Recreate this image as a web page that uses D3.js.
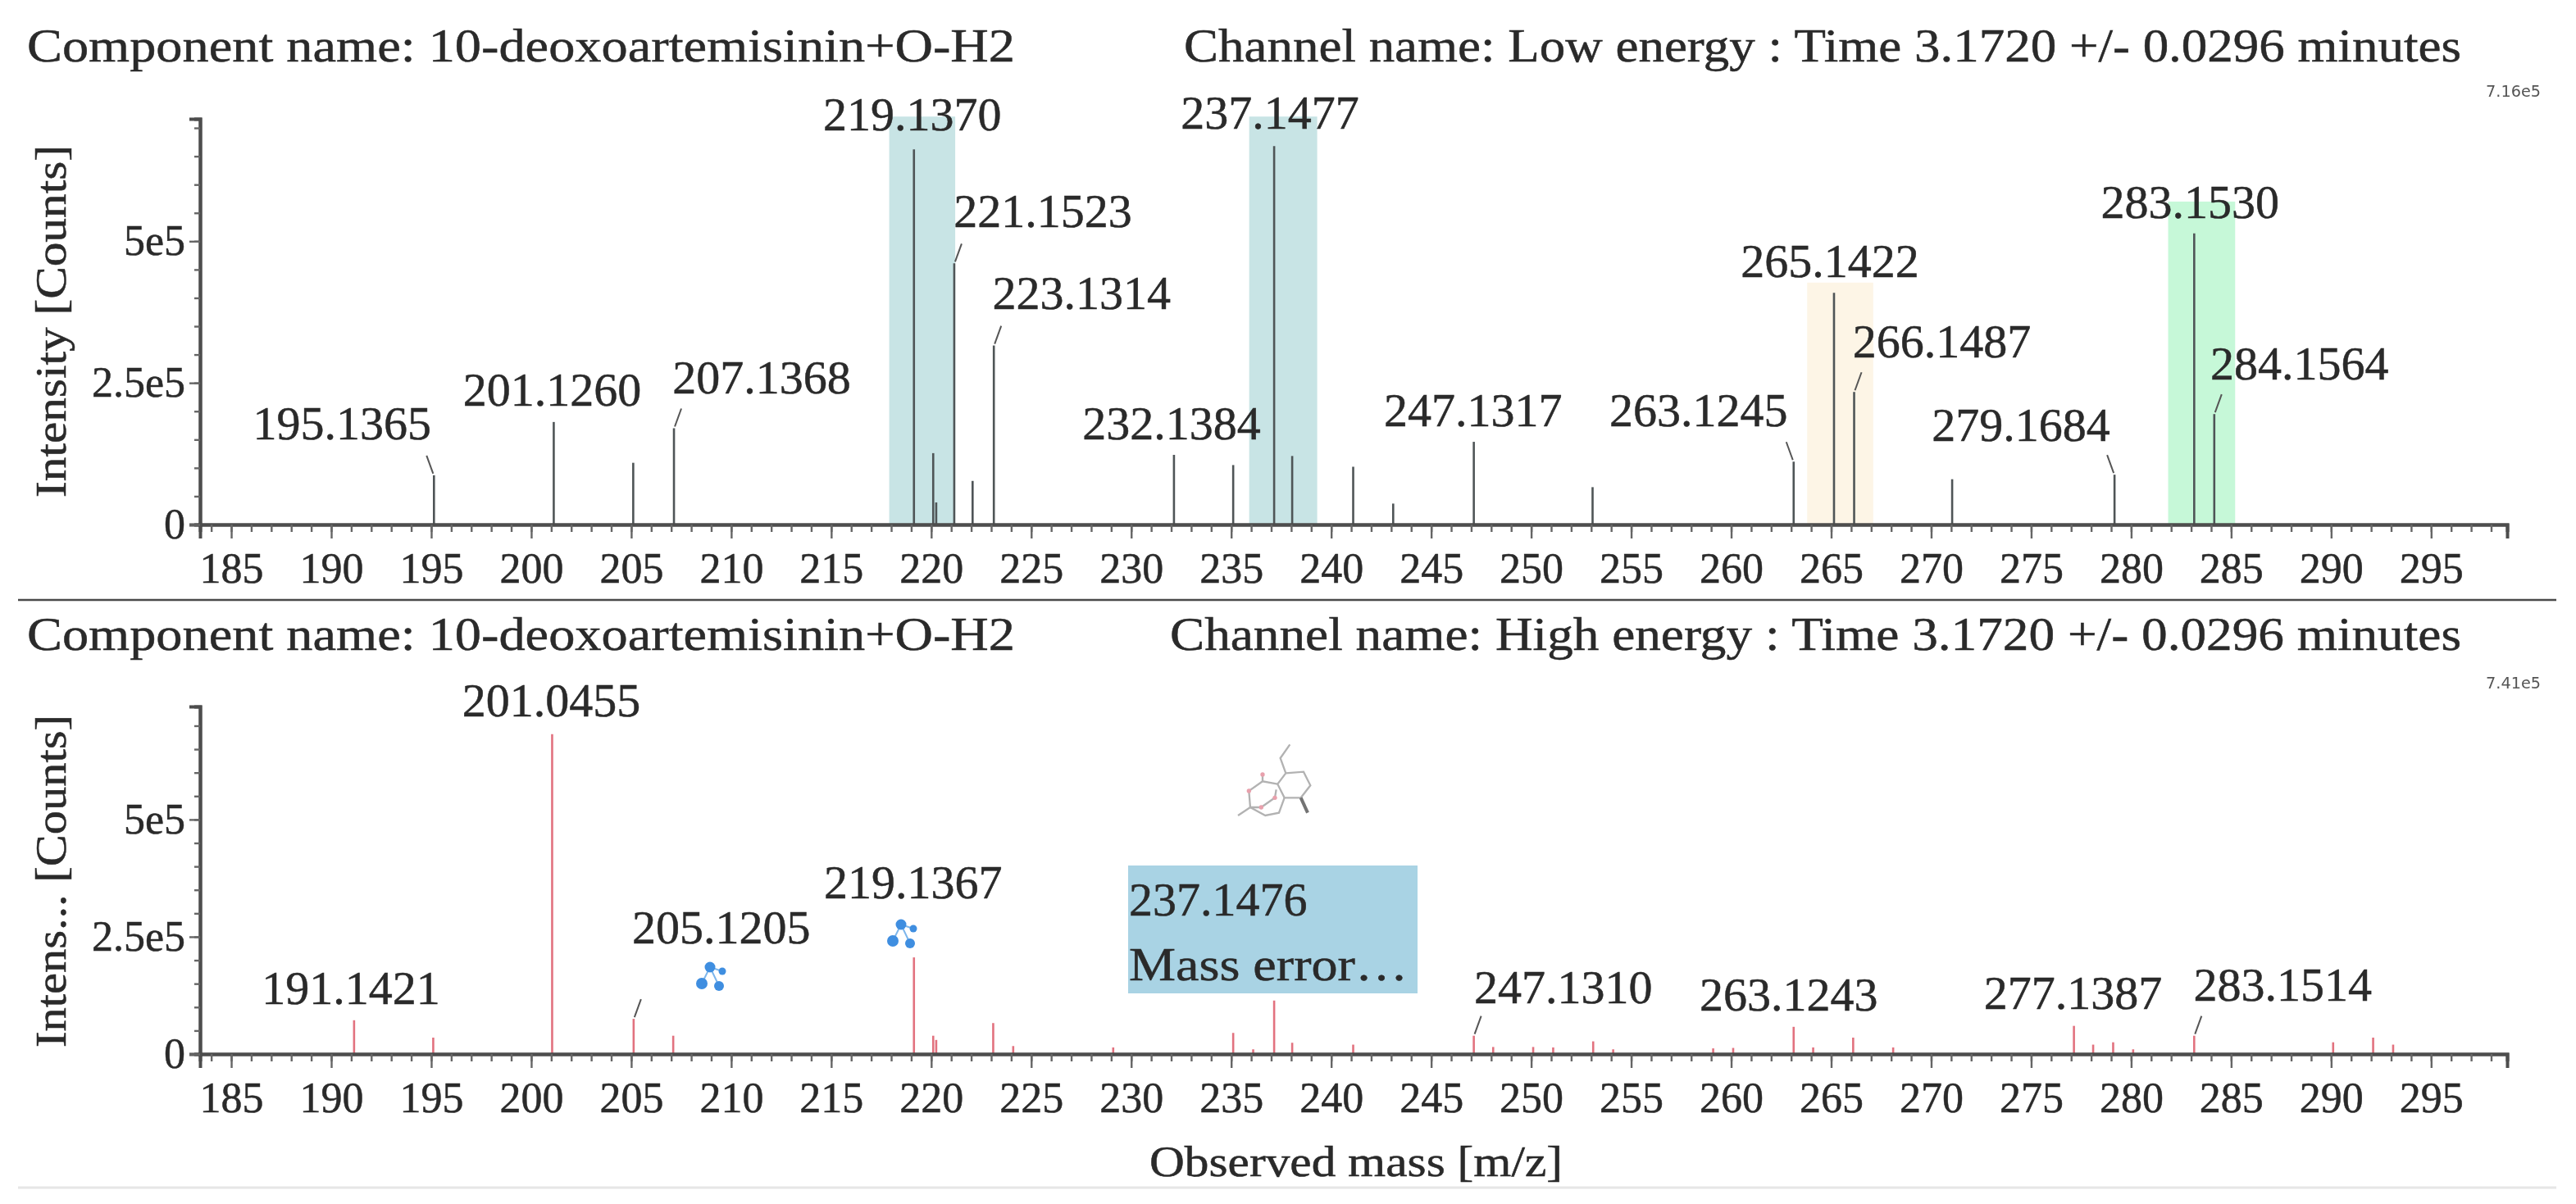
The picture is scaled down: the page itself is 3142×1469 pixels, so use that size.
<!DOCTYPE html>
<html>
<head>
<meta charset="utf-8">
<script src="https://cdn.jsdelivr.net/npm/d3@7"></script>
<style>
  body { margin: 0; background: #fff; }
  svg { display: block; filter: blur(0.7px); }
  text { font-family: "Liberation Serif", serif; fill: #2a2a2a; stroke: #2a2a2a; stroke-width: 0.5px; }
</style>
</head>
<body>
<div id="chart"></div>
<script>
// Data
const mzTicks = d3.range(185, 296, 5);
const mzMinorTicks = d3.range(184, 299);
const intensityTicks = [0, 2.5e5, 5e5];
const intensityMinorTicks = d3.range(0, 7.01e5, 0.5e5);

const lowMz = [195.1365, 201.1260, 205.1, 207.1368, 219.1370, 220.1, 220.25, 221.1523, 222.07, 223.1314,
  232.1384, 235.1, 237.1477, 238.05, 241.1, 243.1, 247.1317, 253.07, 263.1245, 265.1422, 266.1487,
  271.05, 279.1684, 283.1530, 284.1564];
const lowIntensity = [0.87e5, 1.81e5, 1.09e5, 1.70e5, 6.62e5, 1.26e5, 0.39e5, 4.61e5, 0.77e5, 3.16e5,
  1.23e5, 1.05e5, 6.68e5, 1.21e5, 1.02e5, 0.37e5, 1.46e5, 0.66e5, 1.11e5, 4.09e5, 2.34e5,
  0.80e5, 0.88e5, 5.14e5, 1.95e5];
const lowLabels = ["195.1365", "201.1260", "207.1368", "219.1370", "221.1523", "223.1314", "232.1384",
  "237.1477", "247.1317", "263.1245", "265.1422", "266.1487", "279.1684", "283.1530", "284.1564"];

const highMz = [191.1421, 195.1, 201.0455, 205.1205, 207.1, 219.1367, 220.1, 220.25, 223.1, 224.1, 229.1,
  235.1, 236.1, 237.1476, 238.05, 241.1, 247.1310, 248.1, 250.1, 251.1, 253.1, 254.1, 259.1, 260.1,
  263.1243, 264.1, 266.1, 268.1, 277.1387, 278.1, 279.1, 280.1, 283.1514, 290.1, 292.1, 293.1];
const highIntensity = [0.72e5, 0.35e5, 6.82e5, 0.75e5, 0.39e5, 2.06e5, 0.39e5, 0.30e5, 0.66e5, 0.17e5, 0.14e5,
  0.45e5, 0.10e5, 1.14e5, 0.24e5, 0.20e5, 0.39e5, 0.15e5, 0.15e5, 0.14e5, 0.27e5, 0.10e5, 0.12e5, 0.13e5,
  0.58e5, 0.14e5, 0.35e5, 0.14e5, 0.60e5, 0.20e5, 0.25e5, 0.10e5, 0.39e5, 0.25e5, 0.35e5, 0.20e5];
const highLabels = ["191.1421", "201.0455", "205.1205", "219.1367", "247.1310", "263.1243", "277.1387", "283.1514"];

const bandStart = [217.9, 235.9, 263.8, 281.85];
const bandEnd = [221.2, 239.3, 267.1, 285.2];
const bandTop = [7.2e5, 7.2e5, 4.27e5, 5.7e5];

// Where each label sits relative to its peak: [dx, dy, leader direction]
const labelSpots = {
  "195.1365": [-112, -44, -1], "201.1260": [-2, -20, 0], "207.1368": [107, -42, 1],
  "219.1370": [-2, -23, 0], "221.1523": [108, -44, 1], "223.1314": [107, -45, 1],
  "232.1384": [-3, -19, 0], "237.1477": [-5, -21, 0], "247.1317": [-1, -19, 0],
  "263.1245": [-116, -43, -1], "265.1422": [-5, -19, 0], "266.1487": [107, -42, 1],
  "279.1684": [-114, -41, -1], "283.1530": [-5, -19, 0], "284.1564": [104, -42, 1],
  "191.1421": [-4, -20, 0], "201.0455": [-1, -22, 0], "205.1205": [107, -92, 1],
  "219.1367": [-1, -72, 0], "247.1310": [109, -40, 1], "263.1243": [-6, -20, 0],
  "277.1387": [-1, -21, 0], "283.1514": [108, -43, 1]
};
const bandColors = ["#c8e4e5", "#c8e4e5", "#fdf5e6", "#c6f8d8"];

const width = 3142, height = 1469;
const svg = d3.select("#chart").append("svg").attr("width", width).attr("height", height);
const x = d3.scaleLinear().domain([183.44, 298.8]).range([244, 3058]);

function putText(g, str, px, py, size, len) {
  let t = g.append("text").attr("x", px).attr("y", py).style("font-size", size + "px").text(str);
  if (len) t.attr("textLength", len).attr("lengthAdjust", "spacingAndGlyphs");
  return t;
}

function drawPanel(p) {
  let g = svg.append("g");
  let y = d3.scaleLinear().domain([0, p.maxValue]).range([p.bottom, p.top]);

  // highlight bands under the low energy peaks
  if (p.bands) {
    g.selectAll("rect.band").data(bandStart).enter().append("rect")
      .attr("class", "band")
      .attr("x", d => x(d))
      .attr("width", (d, i) => x(bandEnd[i]) - x(d))
      .attr("y", (d, i) => y(bandTop[i]))
      .attr("height", (d, i) => y(0) - y(bandTop[i]))
      .attr("fill", (d, i) => bandColors[i]);
  }

  // sticks
  g.selectAll("line.peak").data(p.mz).enter().append("line")
    .attr("class", "peak")
    .attr("x1", d => x(d)).attr("x2", d => x(d))
    .attr("y1", y(0))
    .attr("y2", (d, i) => y(p.intensity[i]))
    .attr("stroke", p.color)
    .attr("stroke-width", 2.6);

  // axes
  let major = g.append("g").attr("transform", "translate(0," + p.bottom + ")")
    .call(d3.axisBottom(x).tickValues(mzTicks).tickSize(17).tickPadding(17).tickFormat(d3.format("d")));
  let minor = g.append("g").attr("transform", "translate(0," + p.bottom + ")")
    .call(d3.axisBottom(x).tickValues(mzMinorTicks).tickSize(9).tickFormat(""));
  let yMajor = g.append("g").attr("transform", "translate(244,0)")
    .call(d3.axisLeft(y).tickValues(intensityTicks).tickSize(13).tickPadding(5)
      .tickFormat(d => d === 0 ? "0" : d3.format(".2")(d / 1e5).replace(/\.0$/, "") + "e5"));
  let yMinor = g.append("g").attr("transform", "translate(244,0)")
    .call(d3.axisLeft(y).tickValues(intensityMinorTicks).tickSize(7).tickFormat(""));

  [major, minor, yMajor, yMinor].forEach(a => {
    a.select(".domain").attr("stroke", "#4d4d4d").attr("stroke-width", 4);
    a.selectAll("line").attr("stroke", "#666").attr("stroke-width", 2.4);
    a.selectAll("text").style("font-size", "52px").style("font-family", "Liberation Serif").attr("fill", "#333");
  });

  // peak labels and their little leaders
  p.labels.forEach(str => {
    let i = p.mz.findIndex(m => m.toFixed(4) === str);
    let px = x(p.mz[i]), py = y(p.intensity[i]);
    let s = labelSpots[str];
    putText(g, str, px + s[0], py + s[1], 58).attr("text-anchor", "middle");
    if (s[2] !== 0) {
      g.append("line")
        .attr("x1", px + s[2]).attr("y1", py - 2)
        .attr("x2", px + s[2] * 9).attr("y2", py - 24)
        .attr("stroke", "#555").attr("stroke-width", 2);
    }
  });

  // titles
  putText(g, "Component name: 10-deoxoartemisinin+O-H2", 33, p.titleY, 58, 1205);
  putText(g, p.channel, p.channelX, p.titleY, 58, 3002 - p.channelX);
  putText(g, p.maxLabel, 3032, p.maxLabelY, 19, 67).style("font-family", "DejaVu Sans").style("fill", "#555").style("stroke", "none");
  putText(g, p.yTitle, 0, 0, 52, p.yTitleLength)
    .attr("text-anchor", "middle")
    .attr("transform", "translate(80," + p.yTitleY + ") rotate(-90)");
  return y;
}

drawPanel({
  mz: lowMz, intensity: lowIntensity, labels: lowLabels, color: "#4f5557", bands: true,
  maxValue: 7.16e5, top: 145, bottom: 640, titleY: 75, maxLabel: "7.16e5", maxLabelY: 118,
  channel: "Channel name: Low energy : Time 3.1720 +/- 0.0296 minutes", channelX: 1444,
  yTitle: "Intensity [Counts]", yTitleY: 392, yTitleLength: 430
});
drawPanel({
  mz: highMz, intensity: highIntensity, labels: highLabels, color: "#e2727f",
  maxValue: 7.41e5, top: 862, bottom: 1286, titleY: 793, maxLabel: "7.41e5", maxLabelY: 840,
  channel: "Channel name: High energy : Time 3.1720 +/- 0.0296 minutes", channelX: 1427,
  yTitle: "Intens... [Counts]", yTitleY: 1075, yTitleLength: 406
});

// separators
svg.append("line").attr("x1", 22).attr("x2", 3118).attr("y1", 732).attr("y2", 732)
  .attr("stroke", "#4a4a4a").attr("stroke-width", 2.5);
svg.append("line").attr("x1", 22).attr("x2", 3118).attr("y1", 1449).attr("y2", 1449)
  .attr("stroke", "#e6e6e6").attr("stroke-width", 3);

// x axis title
putText(svg, "Observed mass [m/z]", 1402, 1435, 52, 504);

// tooltip box on the 237 peak
svg.append("rect").attr("x", 1376).attr("y", 1056).attr("width", 353).attr("height", 156).attr("fill", "#a9d3e4");
putText(svg, "237.1476", 1377, 1117, 58);
putText(svg, "Mass error…", 1377, 1196, 58, 340);

// fragment glyphs (blue dots)
function fragmentIcon(tx, ty) {
  let icon = svg.append("g").attr("transform", "translate(" + tx + "," + ty + ")");
  let dots = [[0, 0, 6.5], [15, 5, 4.5], [-10, 20, 7], [11, 23, 6]];
  dots.slice(1).forEach(d => {
    icon.append("line").attr("x1", 0).attr("y1", 0).attr("x2", d[0]).attr("y2", d[1])
      .attr("stroke", "#7db6ec").attr("stroke-width", 2);
  });
  icon.selectAll("circle").data(dots).enter().append("circle")
    .attr("cx", d => d[0]).attr("cy", d => d[1]).attr("r", d => d[2]).attr("fill", "#3f8ee0");
}
fragmentIcon(866, 1180);
fragmentIcon(1099, 1128);

// molecule sketch above the 237 peak
const bonds = [
  [[385, 250], [450, 245], [475, 295], [440, 340], [380, 340], [355, 290], [385, 250]],
  [[355, 290], [300, 280], [250, 315], [255, 375], [310, 405], [360, 395], [380, 340]],
  [[350, 310], [345, 340], [295, 375], [255, 375]],
  [[255, 375], [210, 405]],
  [[385, 250], [365, 195], [400, 145]],
  [[300, 280], [300, 250]]
];
let mol = svg.append("g").attr("transform", "translate(1440,860) scale(0.3333)").attr("opacity", 0.75);
mol.selectAll("path.bond").data(bonds).enter().append("path")
  .attr("class", "bond")
  .attr("d", d3.line())
  .attr("fill", "none").attr("stroke", "#999").attr("stroke-width", 7);
mol.append("path").attr("d", d3.line()([[440, 340], [465, 395]])).attr("stroke", "#444").attr("stroke-width", 12);
mol.selectAll("circle").data([[250, 315], [295, 375], [345, 340], [300, 255]]).enter().append("circle")
  .attr("cx", d => d[0]).attr("cy", d => d[1]).attr("r", 8).attr("fill", "#e08090");
</script>
</body>
</html>
